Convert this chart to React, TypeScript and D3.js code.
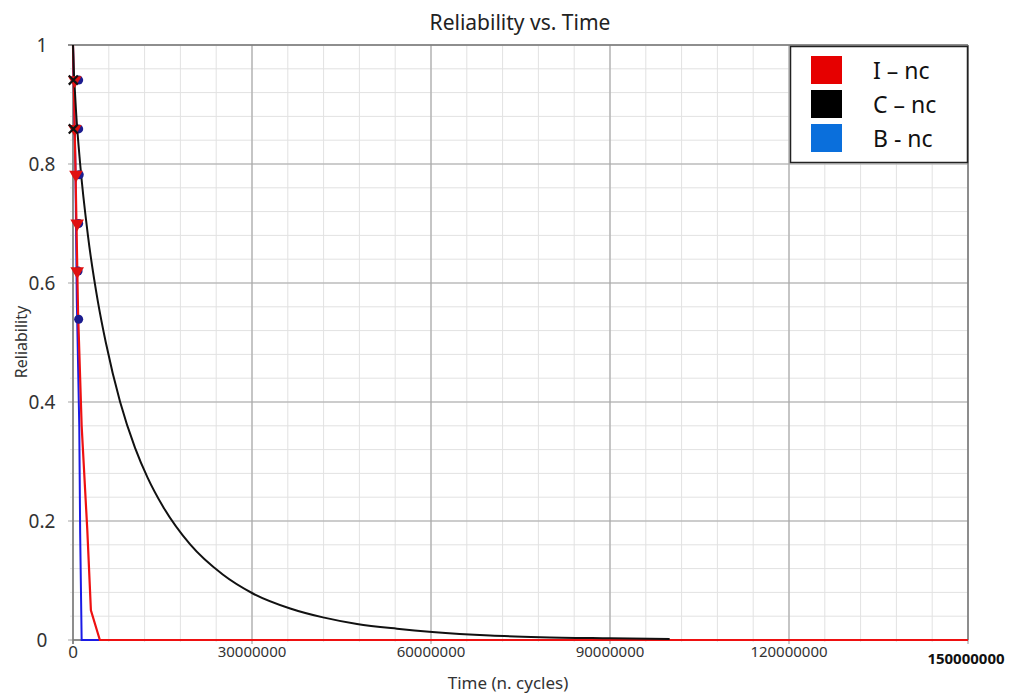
import React from 'react';
import * as d3 from 'd3';

// series: time in cycles, reliability 0..1
const timeI = [0, 400000, 850000, 1450000, 2400000, 3000000, 4500000, 150000000];
const relI = [1, 0.8, 0.55, 0.36, 0.184, 0.05, 0, 0];

const timeC = [0, 100000, 200000, 500000, 1200000, 2500000, 4200000, 5500000, 7900000, 10400000, 12500000, 15100000, 19600000, 25100000, 30000000, 36400000, 41900000, 47600000, 54300000, 60200000, 69900000, 78300000, 90000000, 100000000];
const relC = [1, 0.965, 0.944, 0.89, 0.8, 0.68, 0.567, 0.5, 0.4, 0.323, 0.273, 0.224, 0.161, 0.11, 0.079, 0.053, 0.038, 0.027, 0.019, 0.0135, 0.0075, 0.0048, 0.003, 0.0018];

const timeB = [0, 400000, 640000, 1050000, 1200000, 1450000, 4500000, 150000000];
const relB = [1, 0.8, 0.57, 0.36, 0.18, 0, 0, 0];

// plotted data points (markers)
const markRel = [0.941, 0.859, 0.782, 0.7, 0.62, 0.539];
const markTimeI = [300000, 300000, 500000, 700000, 700000];
const markTimeC = [50000, 50000];
const markTimeB = [950000, 950000, 1050000, 950000, 850000, 950000];

const xTicks = [0, 30000000, 60000000, 90000000, 120000000];
const xLastTick = '150000000';
const yTicks = [0, 0.2, 0.4, 0.6, 0.8, 1];
const yTickLabels = ['0', '0.2', '0.4', '0.6', '0.8', '1'];

const legendNames = ['I \u2013 nc', 'C \u2013 nc', 'B - nc'];
const legendColors = ['#e60000', '#000000', '#0a6fdc'];

const FONT = '"Noto Sans", "Open Sans", sans-serif';

export default function App() {
  const W = 1009;
  const H = 693;
  const x = d3.scaleLinear().domain([0, 150000000]).range([73, 968]);
  const y = d3.scaleLinear().domain([0, 1]).range([640, 45]);

  const minorX = d3.range(0, 150000001, 6000000);
  const minorY = d3.range(0, 1.0001, 0.04);
  const majorX = d3.range(0, 150000001, 30000000);

  const mk = (ts: number[], rs: number[]) => ts.map((t, i) => [t, rs[i]] as [number, number]);
  const straight = d3.line<[number, number]>().x(d => x(d[0])).y(d => y(d[1]));
  const smooth = d3.line<[number, number]>().x(d => x(d[0])).y(d => y(d[1])).curve(d3.curveMonotoneX);

  const tri = d3.symbol().type(d3.symbolTriangle).size(80)();
  const cross = d3.symbol().type(d3.symbolX).size(55)();

  return (
    <svg width={W} height={H} style={{ position: 'absolute', left: 0, top: 0, background: '#fff' }} fontFamily={FONT}>
      {/* minor grid */}
      <g stroke="#e2e2e2" strokeWidth={1}>
        {minorX.map((v, i) => (
          <line key={'mx' + i} x1={x(v)} x2={x(v)} y1={y(1)} y2={y(0) + 2} />
        ))}
        {minorY.map((v, i) => (
          <line key={'my' + i} x1={x(0) - 3} x2={x(150000000)} y1={y(v)} y2={y(v)} />
        ))}
      </g>
      {/* major grid */}
      <g stroke="#a8a8a8" strokeWidth={1.2}>
        {majorX.map((v, i) => (
          <line key={'Mx' + i} x1={x(v)} x2={x(v)} y1={y(1)} y2={y(0) + 4} />
        ))}
        {yTicks.map((v, i) => (
          <line key={'My' + i} x1={x(0) - 5} x2={x(150000000)} y1={y(v)} y2={y(v)} />
        ))}
      </g>
      {/* frame */}
      <g stroke="#7a7a7a" strokeWidth={1.5} fill="none">
        <line x1={x(0) - 5} x2={x(150000000)} y1={y(1)} y2={y(1)} />
        <line x1={x(150000000)} x2={x(150000000)} y1={y(1)} y2={y(0)} />
        <line x1={x(0)} x2={x(0)} y1={y(1)} y2={y(0) + 4} />
        <line x1={x(0)} x2={x(150000000)} y1={y(0)} y2={y(0)} />
      </g>

      {/* curves */}
      <path d={straight(mk(timeB, relB)) || ''} fill="none" stroke="#1a1ae6" strokeWidth={2} />
      <path d={straight(mk(timeI, relI)) || ''} fill="none" stroke="#ee1111" strokeWidth={2.2} />
      <path d={smooth(mk(timeC, relC)) || ''} fill="none" stroke="#111" strokeWidth={2} />

      {/* markers */}
      {markTimeB.map((t, i) => (
        <circle key={'b' + i} cx={x(t)} cy={y(markRel[i])} r={4.5} fill="#1c1c8f" />
      ))}
      {markTimeI.map((t, i) => (
        <path key={'r' + i} d={tri || ''} transform={`translate(${x(t)},${y(markRel[i])}) rotate(180)`} fill="#e01010" />
      ))}
      {markTimeC.map((t, i) => (
        <path key={'c' + i} d={cross || ''} transform={`translate(${x(t)},${y(markRel[i])})`} fill="none" stroke="#111" strokeWidth={2.2} />
      ))}

      {/* y tick labels */}
      {yTicks.map((v, i) => (
        <text key={'yl' + i} x={42} y={y(v)} dy="0.35em" textAnchor="middle" fontSize={19} fill="#333">
          {yTickLabels[i]}
        </text>
      ))}
      {/* x tick labels */}
      {xTicks.map((v, i) => (
        <text key={'xl' + i} x={x(v)} y={652} dy="0.35em" textAnchor="middle" fontSize={i === 0 ? 17 : 15} fill="#333">
          {String(v)}
        </text>
      ))}
      <text x={966} y={659} dy="0.35em" textAnchor="middle" fontSize={15} fontWeight="bold" fill="#111">
        {xLastTick}
      </text>

      {/* titles */}
      <text x={520} y={23} dy="0.35em" textAnchor="middle" fontSize={21} fill="#222">
        Reliability vs. Time
      </text>
      <text x={508} y={683} dy="0.35em" textAnchor="middle" fontSize={17} fill="#333">
        Time (n. cycles)
      </text>
      <text transform="translate(21,342) rotate(-90)" dy="0.35em" textAnchor="middle" fontSize={16} fill="#333">
        Reliability
      </text>

      {/* legend */}
      <g>
        <rect x={790.5} y={46.5} width={177} height={116} fill="#fff" stroke="#222" strokeWidth={1.5} />
        {legendNames.map((n, i) => (
          <g key={'lg' + i} transform={`translate(0,${i * 34})`}>
            <rect x={811} y={56} width={31} height={28} fill={legendColors[i]} />
            <text x={873} y={71} dy="0.35em" fontSize={23} fill="#111">
              {n}
            </text>
          </g>
        ))}
      </g>
    </svg>
  );
}
